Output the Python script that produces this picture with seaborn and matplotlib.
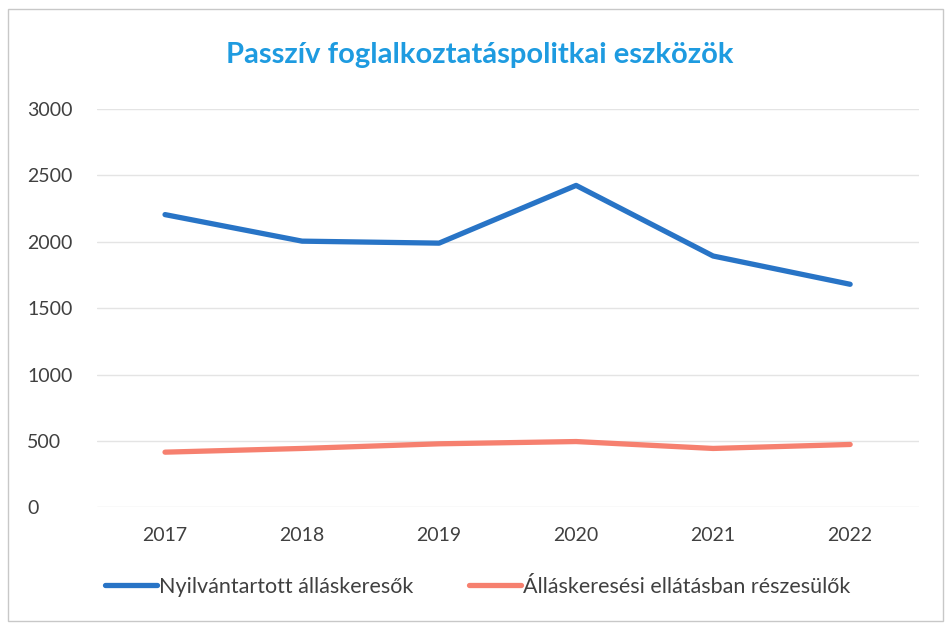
import matplotlib
matplotlib.use("Agg")
import matplotlib.pyplot as plt
import seaborn as sns
import pandas as pd
from matplotlib.patches import Rectangle

years = ["2017", "2018", "2019", "2020", "2021", "2022"]
nyilvantartott = [2205, 2005, 1990, 2425, 1893, 1680]
ellatas = [415, 443, 478, 495, 443, 473]
series_names = ["Nyilvántartott álláskeresők", "Álláskeresési ellátásban részesülők"]
yticks = [0, 500, 1000, 1500, 2000, 2500, 3000]

df = pd.DataFrame({
    "Év": years * 2,
    "Érték": nyilvantartott + ellatas,
    "Sorozat": [series_names[0]] * 6 + [series_names[1]] * 6,
})

sns.set_theme(style="white")
plt.rcParams['font.family'] = ['Lato', 'DejaVu Sans']

fig = plt.figure(figsize=(9.5, 6.27), dpi=100)
ax = fig.add_axes([0.1016, 0.191, 0.8654, 0.635])

sns.lineplot(data=df, x="Év", y="Érték", hue="Sorozat",
             palette=["#2874C6", "#F6806F"], linewidth=3.8, ax=ax,
             sort=False, legend=True)

ax.set_xlim(-0.5, 5.5)
ax.set_ylim(0, 3000)
ax.set_yticks(yticks)
ax.set_yticklabels([str(v) for v in yticks])
ax.grid(axis="y", color="#E4E4E4", linewidth=1)
ax.set_axisbelow(True)
for s in ax.spines.values():
    s.set_visible(False)
ax.set_xlabel("")
ax.set_ylabel("")
ax.tick_params(axis="both", length=0, labelsize=14, colors="#404040")
ax.tick_params(axis="x", pad=14)
ax.tick_params(axis="y", pad=50)
for lab in ax.get_yticklabels():
    lab.set_horizontalalignment("left")

fig.text(0.505, 0.912, "Passzív foglalkoztatáspolitkai eszközök",
         ha="center", va="center", fontsize=21, fontweight="bold", color="#1E9BE0")

h, l = ax.get_legend_handles_labels()
ax.legend(h, l, loc="center left", bbox_to_anchor=(0.0, -0.2), ncol=2,
          frameon=False, fontsize=15.5, handlelength=2.4, handletextpad=0.1,
          columnspacing=2.6, labelcolor="#404040", borderaxespad=0)

fig.patches.append(Rectangle((0.008, 0.01), 0.985, 0.975, transform=fig.transFigure,
                             fill=False, edgecolor="#C8C8C8", linewidth=1))

fig.savefig("out.png", dpi=100)
